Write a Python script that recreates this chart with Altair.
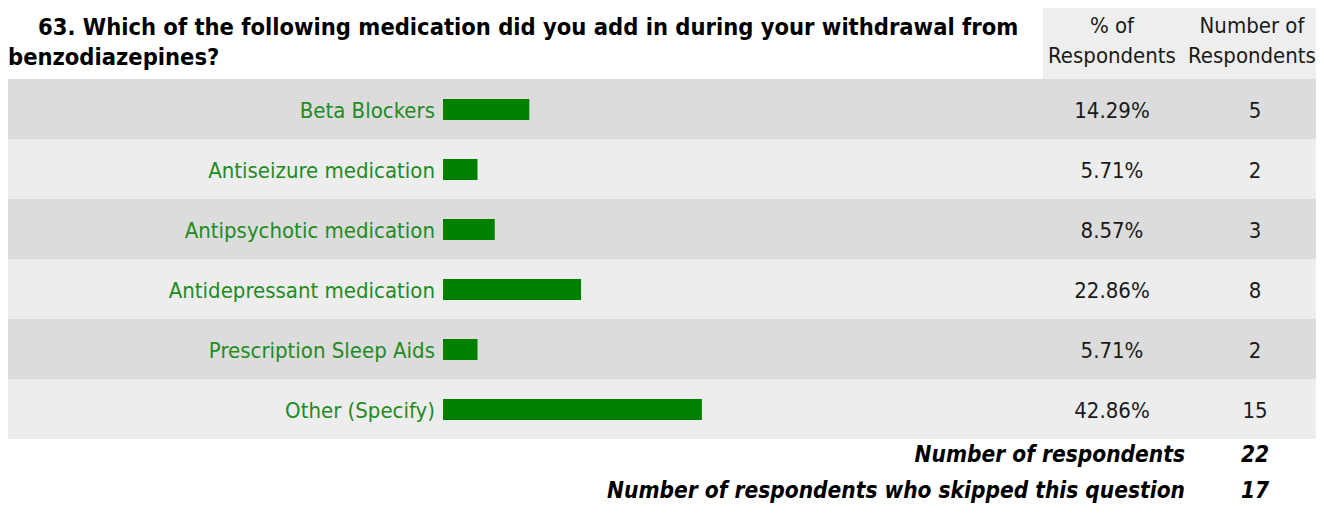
import altair as alt
import pandas as pd

# ---- data ----
options = ["Beta Blockers", "Antiseizure medication", "Antipsychotic medication",
           "Antidepressant medication", "Prescription Sleep Aids", "Other (Specify)"]
percents = [14.29, 5.71, 8.57, 22.86, 5.71, 42.86]
counts = [5, 2, 3, 8, 2, 15]
title_lines = ["63. Which of the following medication did you add in during your withdrawal from",
               "benzodiazepines?"]
pct_header = ["% of", "Respondents"]
num_header = ["Number of", "Respondents"]
footer_labels = ["Number of respondents", "Number of respondents who skipped this question"]
footer_values = [22, 17]

W = 1308
FONT = "DejaVu Sans Condensed"
FS = 22
FS_TITLE = 23.5
FS_FOOT = 22.5
H_HEAD, H_BODY, H_FOOT = 71, 360, 70

one = pd.DataFrame({"k": [0]})

# ---- header ----
head_bg = alt.Chart(one).mark_rect(color="#eeeeee").encode(
    x=alt.value(1035), x2=alt.value(W), y=alt.value(0), y2=alt.value(H_HEAD))
t1 = alt.Chart(one).mark_text(align="left", baseline="alphabetic", font=FONT, fontSize=FS_TITLE,
                              fontWeight="bold", color="#000000").encode(
    x=alt.value(30), y=alt.value(27), text=alt.value(title_lines[0]))
t2 = alt.Chart(one).mark_text(align="left", baseline="alphabetic", font=FONT, fontSize=FS_TITLE,
                              fontWeight="bold", color="#000000").encode(
    x=alt.value(0), y=alt.value(57), text=alt.value(title_lines[1]))
hdf = pd.DataFrame({"line": [0, 1], "pct": pct_header, "num": num_header})
hbase = alt.Chart(hdf).encode(
    y=alt.Y("line:Q", scale=alt.Scale(domain=[0, 1], range=[25, 55]), axis=None))
h_pct = hbase.mark_text(align="center", baseline="alphabetic", font=FONT, fontSize=FS,
                        color="#1a1a1a").encode(x=alt.value(1104), text="pct:N")
h_num = hbase.mark_text(align="center", baseline="alphabetic", font=FONT, fontSize=FS,
                        color="#1a1a1a").encode(x=alt.value(1244), text="num:N")
header = alt.layer(head_bg, t1, t2, h_pct, h_num).properties(width=W, height=H_HEAD)

# ---- body ----
body_df = pd.DataFrame({
    "option": options,
    "pct": percents,
    "count": counts,
    "pct_label": [f"{p:.2f}%" for p in percents],
    "shade": ["a" if i % 2 == 0 else "b" for i in range(len(options))],
})
base = alt.Chart(body_df).encode(
    y=alt.Y("option:N", sort=options, axis=None,
            scale=alt.Scale(paddingInner=0, paddingOuter=0)))
bg = base.mark_rect().encode(
    x=alt.value(0), x2=alt.value(W),
    color=alt.Color("shade:N", scale=alt.Scale(domain=["a", "b"], range=["#dcdcdc", "#ededed"]),
                    legend=None))
bars = base.mark_bar(color="#008000", size=21, yOffset=0.5).encode(
    x=alt.X("pct:Q", scale=alt.Scale(domain=[0, 100], range=[435, 1039]), axis=None))
labels = base.mark_text(align="right", baseline="middle", font=FONT, fontSize=FS, dy=2,
                        color="#228b22").encode(x=alt.value(427), text="option:N")
pct_txt = base.mark_text(align="center", baseline="middle", font=FONT, fontSize=FS, dy=2,
                         color="#1a1a1a").encode(x=alt.value(1104), text="pct_label:N")
cnt_txt = base.mark_text(align="center", baseline="middle", font=FONT, fontSize=FS, dy=2,
                         color="#1a1a1a").encode(x=alt.value(1247), text="count:Q")
body = alt.layer(bg, bars, labels, pct_txt, cnt_txt).properties(width=W, height=H_BODY)

# ---- footer ----
fdf = pd.DataFrame({"row": [0, 1], "label": footer_labels, "value": footer_values})
fbase = alt.Chart(fdf).encode(
    y=alt.Y("row:Q", scale=alt.Scale(domain=[0, 1], range=[23, 59]), axis=None))
f_lab = fbase.mark_text(align="right", baseline="alphabetic", font=FONT, fontSize=FS_FOOT,
                        fontWeight="bold", fontStyle="italic", color="#000000").encode(
    x=alt.value(1177), text="label:N")
f_val = fbase.mark_text(align="center", baseline="alphabetic", font=FONT, fontSize=FS_FOOT,
                        fontWeight="bold", fontStyle="italic", color="#000000").encode(
    x=alt.value(1247), text="value:Q")
footer = alt.layer(f_lab, f_val).properties(width=W, height=H_FOOT)

chart = alt.vconcat(header, body, footer, spacing=0).properties(
    padding=0, background="#ffffff"
).configure_view(stroke=None)

chart.save("out.html", embed_options={"renderer": "svg", "actions": False})
